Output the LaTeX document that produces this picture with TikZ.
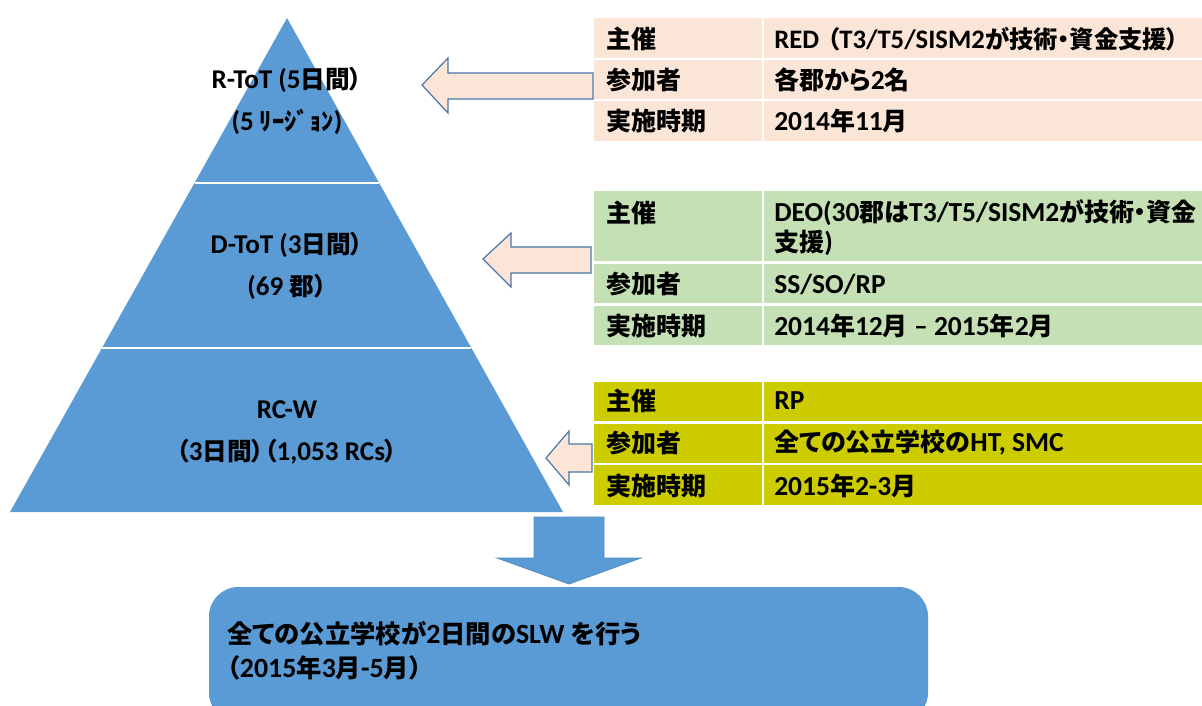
\documentclass[tikz,border=0pt]{standalone}
\usepackage{fontspec}
\setmainfont{Carlito}[Scale=1.1]
\newfontfamily\jpfont{Noto Sans CJK JP}[RawFeature=+palt]
\XeTeXinterchartokenstate=1
\newXeTeXintercharclass\CJKcls
\newcount\cjkc
\def\setcjkrange#1#2{\cjkc=#1\relax\loop\XeTeXcharclass\cjkc=\CJKcls\relax\ifnum\cjkc<#2\advance\cjkc by 1\repeat}
\setcjkrange{"3000}{"30FF}
\setcjkrange{"4E00}{"9FFF}
\setcjkrange{"FF00}{"FFEF}
\XeTeXinterchartoks 0 \CJKcls = {\jpfont}
\XeTeXinterchartoks 4095 \CJKcls = {\jpfont}
\XeTeXinterchartoks \CJKcls 0 = {\rmfamily}
\XeTeXinterchartoks \CJKcls 4095 = {\rmfamily}
\definecolor{pyr}{HTML}{5B9BD5}
\definecolor{peach}{HTML}{FBE5D6}
\definecolor{grn}{HTML}{C5E0B4}
\definecolor{olive}{HTML}{CCCC00}
\definecolor{arrowline}{HTML}{4A76A8}
\begin{document}
\begin{tikzpicture}[x=0.75pt,y=-0.75pt,
  pyrtext/.style={font=\bfseries\fontsize{18.5}{22}\selectfont, inner sep=0pt},
  celltext/.style={font=\bfseries\fontsize{18.75}{22.5}\selectfont, inner sep=0pt, anchor=west, align=left},
  boxtext/.style={font=\bfseries\fontsize{19}{25.5}\selectfont, inner sep=0pt, anchor=west, align=left},
  blockarrow/.style={fill=peach, draw=arrowline, line width=0.9pt, line join=miter},
  gapline/.style={white, line width=1.9pt},
  colline/.style={white, line width=1.5pt}]
\useasboundingbox (0,0) rectangle (1202,706);
% pyramid
\fill[pyr] (287,18) -- (563,512) -- (10,512) -- cycle;
\draw[gapline,line width=1.5pt] (195.2,183) -- (379.4,183);
\draw[gapline,line width=1.5pt] (101.8,348) -- (471.2,348);
\node[pyrtext] (r1) at (287,80) {R-ToT (5日間）};
\node[pyrtext] (r2) at (287,122) {(5 ﾘｰｼﾞｮﾝ)};
\node[pyrtext] (d1) at (287,245) {D-ToT (3日間）};
\node[pyrtext] (d2) at (287,287) {(69 郡）};
\node[pyrtext] (c1) at (287,410) {RC-W};
\node[pyrtext] (c2) at (287,452) {（3日間）（1,053 RCs）};
% block arrows
\draw[blockarrow] (422,85) -- (448,58) -- (448,73) -- (593,73) -- (593,99) -- (448,99) -- (448,113) -- cycle;
\draw[blockarrow] (483,259) -- (511,233) -- (511,247) -- (591,247) -- (591,273) -- (511,273) -- (511,287) -- cycle;
\draw[blockarrow] (546,458) -- (569,431) -- (569,444) -- (592,444) -- (592,472) -- (569,472) -- (569,485) -- cycle;
% table 1
\fill[peach] (594,18) rectangle (1210,141);
\draw[gapline] (594,58.8) -- (1210,58.8);
\draw[gapline] (594,100.2) -- (1210,100.2);
\draw[colline] (762.5,18) -- (762.5,141);
\node[celltext] (a1) at (606,39) {主催};
\node[celltext, font=\bfseries\fontsize{18.2}{22}\selectfont] (a2) at (774,39) {RED\hspace{0.3em}（T3/T5/SISM2が技術・資金支援）};
\node[celltext] (a3) at (606,80) {参加者};
\node[celltext] (a4) at (774,80) {各郡から2名};
\node[celltext] (a5) at (606,121) {実施時期};
\node[celltext] (a6) at (774,121) {2014年11月};
% table 2
\fill[grn] (594,191) rectangle (1210,345);
\draw[gapline] (594,262.5) -- (1210,262.5);
\draw[gapline] (594,304.5) -- (1210,304.5);
\draw[colline] (762.5,191) -- (762.5,345);
\node[celltext] (b1) at (606,213) {主催};
\node[celltext] (b2) at (774,228) {DEO(30郡はT3/T5/SISM2が技術・資金\\支援)};
\node[celltext] (b3) at (606,284) {参加者};
\node[celltext] (b4) at (774,284) {SS/SO/RP};
\node[celltext] (b5) at (606,326) {実施時期};
\node[celltext] (b6) at (774,326) {2014年12月 – 2015年2月};
% table 3
\fill[olive] (594,382) rectangle (1210,505);
\draw[gapline] (594,422.5) -- (1210,422.5);
\draw[gapline] (594,464) -- (1210,464);
\draw[colline] (762.5,382) -- (762.5,505);
\node[celltext] (e1) at (606,401) {主催};
\node[celltext] (e2) at (774,401) {RP};
\node[celltext] (e3) at (606,443) {参加者};
\node[celltext] (e4) at (774,443) {全ての公立学校のHT, SMC};
\node[celltext] (e5) at (606,486) {実施時期};
\node[celltext] (e6) at (774,486) {2015年2-3月};
% down arrow
\filldraw[fill=pyr, draw=pyr!90!black, line width=0.6pt, line join=miter] (534,517) -- (604,517) -- (604,558) -- (641,558) -- (569,584) -- (497,558) -- (534,558) -- cycle;
% result box
\fill[pyr, rounded corners=22pt] (209,587) rectangle (928,722);
\node[boxtext] (res) at (227,651) {全ての公立学校が2日間のSLW を行う\\（2015年3月-5月）};
\end{tikzpicture}
\end{document}
